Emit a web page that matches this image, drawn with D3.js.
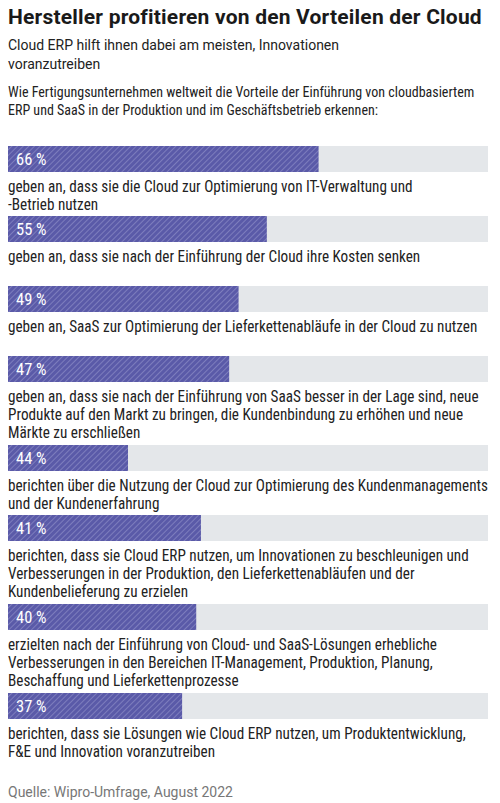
<!DOCTYPE html>
<html><head><meta charset="utf-8">
<script src="https://cdn.jsdelivr.net/npm/d3@7"></script>
<style>
html,body{margin:0;padding:0;background:#fff;}
svg{display:block;}
</style></head>
<body>
<svg id="chart" width="500" height="803"></svg>
<script>
// ---- data ----
const title = "Hersteller profitieren von den Vorteilen der Cloud";
const subtitleLines = ["Cloud ERP hilft ihnen dabei am meisten, Innovationen", "voranzutreiben"];
const introLines = ["Wie Fertigungsunternehmen weltweit die Vorteile der Einführung von cloudbasiertem",
                    "ERP und SaaS in der Produktion und im Geschäftsbetrieb erkennen:"];
const source = "Quelle: Wipro-Umfrage, August 2022";
const categories = [
  ["geben an, dass sie die Cloud zur Optimierung von IT-Verwaltung und", "-Betrieb nutzen"],
  ["geben an, dass sie nach der Einführung der Cloud ihre Kosten senken"],
  ["geben an, SaaS zur Optimierung der Lieferkettenabläufe in der Cloud zu nutzen"],
  ["geben an, dass sie nach der Einführung von SaaS besser in der Lage sind, neue", "Produkte auf den Markt zu bringen, die Kundenbindung zu erhöhen und neue", "Märkte zu erschließen"],
  ["berichten über die Nutzung der Cloud zur Optimierung des Kundenmanagements", "und der Kundenerfahrung"],
  ["berichten, dass sie Cloud ERP nutzen, um Innovationen zu beschleunigen und", "Verbesserungen in der Produktion, den Lieferkettenabläufen und der", "Kundenbelieferung zu erzielen"],
  ["erzielten nach der Einführung von Cloud- und SaaS-Lösungen erhebliche", "Verbesserungen in den Bereichen IT-Management, Produktion, Planung,", "Beschaffung und Lieferkettenprozesse"],
  ["berichten, dass sie Lösungen wie Cloud ERP nutzen, um Produktentwicklung,", "F&E und Innovation voranzutreiben"]
];
const values = [66, 55, 49, 47, 44, 41, 40, 37];          // printed labels
const barValues = [66, 55, 49, 47, 25.5, 41, 40, 37];     // bar lengths as drawn in the reference
const xDomain = [0, 102];

// ---- layout ----
const W = 500, H = 803, left = 8, right = 488;
const barH = 26, lineH = 18, sx = 0.95;
const svg = d3.select("#chart");
svg.append("rect").attr("width", W).attr("height", H).attr("fill", "#fff");

const defs = svg.append("defs");
const pat = defs.append("pattern").attr("id", "stripes").attr("patternUnits", "userSpaceOnUse")
  .attr("width", 4).attr("height", 4).attr("patternTransform", "rotate(45)");
pat.append("rect").attr("width", 4).attr("height", 4).attr("fill", "#5a5aa8");
pat.append("rect").attr("x", 0).attr("width", 1).attr("height", 4).attr("fill", "#7d7dbd");

const x = d3.scaleLinear().domain(xDomain).range([left, right]);

const font = "Roboto, sans-serif";
const labelFont = "'Liberation Sans Narrow','Roboto Condensed','DejaVu Sans Condensed',sans-serif";

svg.append("text").attr("x", left).attr("y", 24).text(title)
  .attr("font-family", font).attr("font-weight", 700).attr("font-size", 21)
  .attr("letter-spacing", 0.2).attr("fill", "#1a1a1a");

svg.append("g").selectAll("text").data(subtitleLines).join("text")
  .attr("x", left).attr("y", (d, i) => 50 + i * 19).text(d => d)
  .attr("font-family", font).attr("font-size", 14).attr("fill", "#222");

svg.append("g").selectAll("text").data(introLines).join("text")
  .attr("x", left).attr("y", (d, i) => 97 + i * 18).text(d => d)
  .attr("font-family", labelFont).attr("font-size", 14).attr("fill", "#222");

// cumulative bar tops
const tops = [];
let yCur = 146;
categories.forEach(lines => { tops.push(yCur); yCur += 32 + 19 * Math.max(2, lines.length); });

const rows = svg.append("g").selectAll("g").data(values.map((v, i) => ({v, b: barValues[i], lines: categories[i], top: tops[i]})))
  .join("g").attr("transform", d => `translate(0,${d.top})`);

rows.append("rect").attr("x", x(0)).attr("y", 0).attr("width", x(xDomain[1]) - x(0)).attr("height", barH).attr("fill", "#e4e7ea");
rows.append("rect").attr("x", x(0)).attr("y", 0).attr("width", d => x(d.b) - x(0)).attr("height", barH).attr("fill", "url(#stripes)");
rows.append("text").attr("x", x(0) + 8).attr("y", 19).text(d => d.v + " %")
  .attr("font-family", labelFont).attr("font-size", 16.5).attr("fill", "#fff");
rows.each(function(d) {
  d3.select(this).selectAll("text.lbl").data(d.lines).join("text").attr("class", "lbl")
    .attr("transform", (t, i) => `translate(${left},${barH + 20 + i * lineH}) scale(${sx},1)`).text(t => t)
    .attr("font-family", labelFont).attr("font-size", 16).attr("fill", "#222");
});

svg.append("text").attr("x", left).attr("y", 797).text(source)
  .attr("font-family", font).attr("font-size", 14).attr("fill", "#777");
</script>
</body></html>
